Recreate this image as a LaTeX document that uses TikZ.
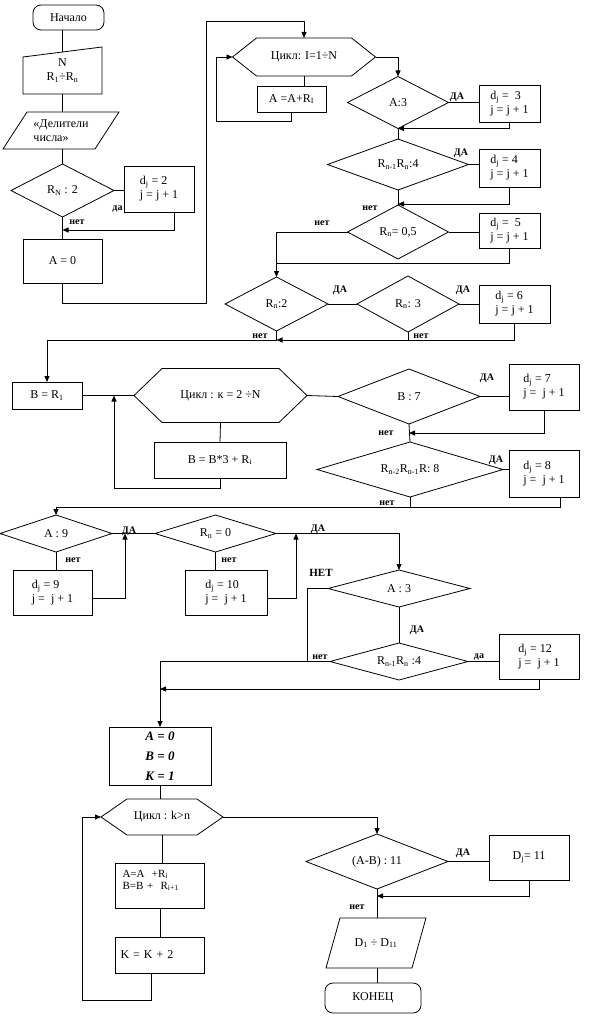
\documentclass[tikz,border=0pt]{standalone}
\usepackage{fontspec}
\setmainfont{Liberation Serif}
\usetikzlibrary{shapes.geometric,arrows.meta}

\newcommand{\txtfont}{\fontsize{12}{14}\selectfont}
\newcommand{\lblfont}{\fontsize{10}{11}\selectfont\bfseries}
\newcommand{\ix}[1]{\textsubscript{#1}}
% outlines drawn round a frame node
\newcommand{\hexout}[2]{\draw (#1.west) -- ([xshift=#2]#1.north west) -- ([xshift=-#2]#1.north east) -- (#1.east) -- ([xshift=-#2]#1.south east) -- ([xshift=#2]#1.south west) -- cycle;}
\newcommand{\slantout}[2]{\draw ([xshift=#2]#1.north west) -- (#1.north east) -- ([xshift=-#2]#1.south east) -- (#1.south west) -- cycle;}
\newcommand{\manout}[2]{\draw (#1.south west) -- ([yshift=#2]#1.north west) -- (#1.north east) -- (#1.south east) -- cycle;}

\tikzset{
  blk/.style={draw, rectangle, inner sep=0pt, outer sep=0pt, font=\txtfont, align=left},
  cond/.style={draw, diamond, aspect=3, inner sep=0pt, outer sep=0pt, font=\txtfont},
  term/.style={draw, rectangle, rounded corners=8pt, inner sep=0pt, outer sep=0pt, font=\txtfont},
  frame/.style={rectangle, inner sep=0pt, outer sep=0pt, font=\txtfont, align=left},
  lbl/.style={inner sep=0pt, font=\lblfont},
  arr/.style={-{Triangle[length=6pt,width=5pt]}},
}

\begin{document}
\begin{tikzpicture}[x=1pt,y=1pt,yscale=-1,line width=0.8pt]
\useasboundingbox (0,0) rectangle (591,1019);

%Shape: Rounded Rect
\node[term, minimum width=71pt, minimum height=25pt] (start) at (68.5,17.5) {Начало};
%Shape: Manual input
\node[frame, minimum width=79pt, minimum height=47pt, align=center] (inp) at (62.5,70.5) {N\\R\ix{1}÷R\ix{n}};
\manout{inp}{10pt}
%Shape: Parallelogram
\node[frame, minimum width=116pt, minimum height=37pt] (div) at (61,130.5) {«Делители\\числа»};
\slantout{div}{24pt}
%Shape: Diamond
\node[cond, minimum width=103pt, minimum height=53pt] (dRN) at (62.5,190.5) {R\ix{N} : 2};
%Shape: Rectangle
\node[blk, minimum width=70pt, minimum height=46pt] (b2) at (159,189) {d\ix{j} = 2\\j = j + 1};
\node[blk, minimum width=79pt, minimum height=44pt] (A0) at (62.5,261) {A = 0};

%Straight Lines
\draw ([xshift=-6pt]start.south) -- ([yshift=5pt]inp.north);
\draw (inp.south) -- (inp.south |- div.north);
\draw (inp.south |- div.south) -- (dRN.north);
\draw (dRN.east) -- (b2.west |- dRN.east);
\draw (dRN.south) -- (A0.north);
\draw[arr] ([xshift=15pt]b2.south) |- ([yshift=13pt]dRN.south);
\node[lbl] (lb1) at (117.5,209) {да};
\node[lbl] (lb2) at (77,222) {нет};

%Shape: Hexagon
\node[frame, minimum width=143pt, minimum height=38pt] (cyc1) at (304,57) {Цикл: I=1÷N};
\hexout{cyc1}{24pt}
\node[blk, minimum width=69pt, minimum height=26pt, align=center] (sumA) at (291.5,99) {A =A+R\ix{I}};
\draw[arr] (A0.south) -- ++(0,20) -| (206,21) -| (cyc1.north);
\draw (cyc1.south) -- (cyc1.south |- sumA.north);
\draw[arr] (sumA.south) -- ++(0,9) -| ([xshift=-16pt]cyc1.west) -- (cyc1.west);

%Shape: Diamond
\node[cond, minimum width=101pt, minimum height=52pt] (dA3) at (398,102.5) {A:3};
\node[blk, minimum width=61pt, minimum height=37pt] (b3) at (509.5,103.5) {d\ix{j} =~ 3\\j = j + 1};
\node[cond, minimum width=141pt, minimum height=51pt] (dR4) at (398,164.5) {R\ix{n-1}R\ix{n}:4};
\node[blk, minimum width=61pt, minimum height=38pt] (b4) at (509.5,168) {d\ix{j} = 4\\j = j + 1};
\node[cond, minimum width=101pt, minimum height=54pt] (dR05) at (398,232) {R\ix{n}= 0,5};
\node[blk, minimum width=61pt, minimum height=35pt] (b5) at (509.5,230.5) {d\ix{j} =~ 5\\j = j + 1};
\node[cond, minimum width=103pt, minimum height=54pt] (dRn2) at (276.5,304) {R\ix{n}:2};
\node[cond, minimum width=102pt, minimum height=56pt] (dRn3) at (408,304) {R\ix{n}: 3};
\node[blk, minimum width=71pt, minimum height=38pt] (b6) at (514.5,304) {d\ix{j} = 6\\j = j + 1};

%Straight Lines
\draw[arr] (cyc1.east) -| (dA3.north);
\draw (dA3.east) -- (b3.west |- dA3.east);
\draw[arr] (b3.south) |- (dA3.south);
\draw (dA3.south) -- (dR4.north);
\draw (dR4.east) -- (b4.west |- dR4.east);
\draw[arr] (b4.south) |- ([yshift=14pt]dR4.south);
\draw (dR4.south) -- (dR05.north);
\draw[arr] (dR05.west) -| (dRn2.north);
\draw (dR05.east) -- (b5.west |- dR05.east);
\draw (b5.south) |- ([yshift=-14pt]dRn2.north);
\draw (dRn2.east) -- (dRn3.west);
\draw (dRn3.east) -- (b6.west |- dRn3.east);
\draw[arr] (b6.south) |- ([yshift=9pt]dRn2.south);
\draw (dRn3.south) -- ++(0,8);
\node[lbl] (lb3) at (457,97) {ДА};
\node[lbl] (lb4) at (461,153) {ДА};
\node[lbl] (lb5) at (370,208) {нет};
\node[lbl] (lb6) at (322,223) {нет};
\node[lbl] (lb7) at (340,290) {ДА};
\node[lbl] (lb8) at (463,290) {ДА};
\node[lbl] (lb9) at (260,336) {нет};
\node[lbl] (lb10) at (421,336) {нет};

%Shape: Rectangle
\node[blk, minimum width=70pt, minimum height=27pt, align=center] (BR1) at (47,395.5) {B = R\ix{1}};
%Shape: Hexagon
\node[frame, minimum width=173pt, minimum height=54pt] (cyc2) at (220.5,395.5) {Цикл : к = 2 ÷N};
\hexout{cyc2}{28pt}
\node[blk, minimum width=132pt, minimum height=36pt, align=center] (BB3) at (220,460) {B = B*3 + R\ix{i}};
%Shape: Diamond
\node[cond, minimum width=142pt, minimum height=55pt] (dB7) at (409,396.5) {B : 7};
\node[blk, minimum width=70pt, minimum height=46pt] (b7) at (544,387) {d\ix{j} = 7\\j =~ j + 1};
\node[cond, minimum width=186pt, minimum height=55pt] (dR8) at (410,469.5) {R\ix{n-2}R\ix{n-1}R: 8};
\node[blk, minimum width=70pt, minimum height=47pt] (b8) at (544,473.5) {d\ix{j} = 8\\j =~ j + 1};

%Straight Lines
\draw[arr] (dRn2.south) -- ++(0,9) -| (BR1.north);
\draw (BR1.east) -- (cyc2.west);
\draw (cyc2.south) -- (BB3.north);
\draw[arr] (BB3.south) -- ++(0,10) -| ([xshift=-20pt]cyc2.west);
\draw (cyc2.east) -- (dB7.west);
\draw (dB7.east) -- (b7.west |- dB7.east);
\draw[arr] (b7.south) |- ([yshift=9pt]dB7.south);
\draw (dB7.south) -- (dR8.north);
\draw (dR8.east) -- (b8.west |- dR8.east);
\draw ([xshift=16pt]b8.south) |- ([yshift=10pt]dR8.south);
\node[lbl] (lb11) at (487,378) {ДА};
\node[lbl] (lb12) at (386,433) {нет};
\node[lbl] (lb13) at (496,460) {ДА};
\node[lbl] (lb14) at (387,503) {нет};

%Shape: Diamond
\node[cond, minimum width=112pt, minimum height=37pt] (dA9) at (56,533.5) {A : 9};
\node[cond, minimum width=121pt, minimum height=37pt] (dRn0) at (215.5,533.5) {R\ix{n} = 0};
\node[blk, minimum width=79pt, minimum height=45pt] (b9) at (52.5,592.5) {d\ix{j} = 9\\j =~ j + 1};
\node[blk, minimum width=82pt, minimum height=45pt] (b10) at (226,592.5) {d\ix{j} = 10\\j =~ j + 1};
\node[cond, minimum width=142pt, minimum height=37pt] (dA3b) at (399,588.5) {A : 3};
\node[cond, minimum width=138pt, minimum height=37pt] (dR4b) at (399,661.5) {R\ix{n-1}R\ix{n} :4};
\node[blk, minimum width=80pt, minimum height=45pt] (b12) at (539,656.5) {d\ix{j} = 12\\j =~ j + 1};

%Straight Lines
\draw[arr] (dR8.south) -- ++(0,10) -| (dA9.north);
\draw (dA9.east) -- (dRn0.west);
\draw (dA9.south) -- (dA9.south |- b9.north);
\draw[arr] ([yshift=5.5pt]b9.east) -| ([xshift=13pt]dA9.east);
\draw (dRn0.south) -- (dRn0.south |- b10.north);
\draw[arr] ([yshift=5.5pt]b10.east) -| ([xshift=20pt]dRn0.east);
\draw[arr] (dRn0.east) -| (dA3b.north);
\draw (dA3b.west) -| ([xshift=-23pt]dR4b.west);
\draw (dA3b.south) -- (dR4b.north);
\draw (dR4b.east) -- (b12.west |- dR4b.east);
\node[lbl] (lb15) at (129,531) {ДА};
\node[lbl] (lb16) at (73,560) {нет};
\node[lbl] (lb17) at (229,560) {нет};
\node[lbl] (lb18) at (318,529) {ДА};
\node[lbl, font=\fontsize{11}{12}\selectfont\bfseries] (lb19) at (321,573) {НЕТ};
\node[lbl] (lb20) at (417,630) {ДА};
\node[lbl] (lb21) at (320,657) {нет};
\node[lbl] (lb22) at (479,657) {да};

%Shape: Rectangle
\node[blk, minimum width=102pt, minimum height=58pt, align=center, font=\fontsize{13}{20}\selectfont\bfseries\itshape] (ABK) at (160,756) {A = 0\\B = 0\\K = 1};
%Shape: Hexagon
\node[frame, minimum width=122pt, minimum height=36pt] (cyc3) at (162,817) {Цикл : k>n};
\hexout{cyc3}{26pt}
\node[blk, minimum width=89pt, minimum height=45pt, text width=75pt, font=\fontsize{11}{12}\selectfont] (sumAB) at (160,885.5) {A=A~~+R\ix{i}\\B=B +~~R\ix{i+1}\\~};
\node[blk, minimum width=89pt, minimum height=36pt, text width=79pt] (Kbox) at (160,955) {K = K + 2};
%Shape: Diamond
\node[cond, minimum width=142pt, minimum height=55pt] (dAB) at (377,861.5) {(A-B) : 11};
\node[blk, minimum width=80pt, minimum height=45pt, align=center] (Dj11) at (529,857.5) {D\ix{j}= 11};
%Shape: Parallelogram
\node[frame, minimum width=100pt, minimum height=50pt, align=center] (outp) at (376,943) {D\ix{1} ÷ D\ix{11}};
\slantout{outp}{14pt}
\node[term, minimum width=96pt, minimum height=30pt] (fin) at (373,998) {КОНЕЦ};

%Straight Lines
\draw[arr] (dR4b.west) -| (ABK.north);
\draw[arr] (b12.south) |- ([yshift=-38pt]ABK.north);
\draw (ABK.south) -- (ABK.south |- cyc3.north);
\draw (cyc3.south) -- (cyc3.south |- sumAB.north);
\draw (sumAB.south) -- (Kbox.north);
\draw[arr] ([xshift=-8.5pt]Kbox.south) -- ++(0,27) -| ([xshift=-19pt]cyc3.west) -- (cyc3.west);
\draw[arr] (cyc3.east) -| (dAB.north);
\draw (dAB.east) -- (Dj11.west |- dAB.east);
\draw[arr] (Dj11.south) |- ([yshift=7pt]dAB.south);
\draw (dAB.south) -- (dAB.south |- outp.north);
\draw (dAB.south |- outp.south) -- (dAB.south |- fin.north);
\node[lbl] (lb23) at (463,853) {ДА};
\node[lbl] (lb24) at (357,907) {нет};

\end{tikzpicture}
\end{document}
